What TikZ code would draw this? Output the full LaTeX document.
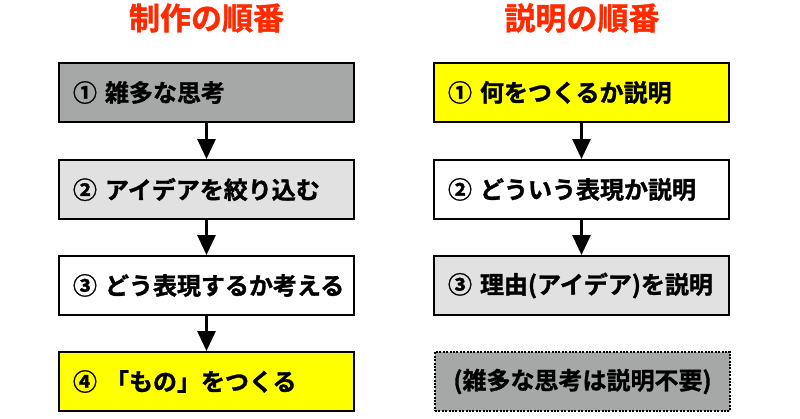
\documentclass[tikz,border=0pt]{standalone}
\usepackage{fontspec}
\newfontfamily\jp{Noto Sans CJK JP}[BoldFont={Noto Sans CJK JP Bold}, BoldFeatures={FakeBold=1.3}]
\usetikzlibrary{arrows.meta}
\definecolor{titlered}{HTML}{FF2A00}
\definecolor{darkbox}{HTML}{A6A8A8}
\definecolor{lightbox}{HTML}{E1E1E1}
\definecolor{yellowbox}{HTML}{FFFF00}
\newcommand{\numgap}{\kern8pt}
\tikzset{
  basebox/.style={draw=black, line width=2pt, rectangle, minimum height=59pt,
    inner xsep=14pt, execute at end node={\hfil\egroup},
    font=\jp\bfseries\fontsize{24}{24}\selectfont},
  stepbox/.style={basebox, execute at begin node={\hbox to 267pt\bgroup}},
  notebox/.style={basebox, dash pattern=on 2pt off 1.4pt,
    execute at begin node={\hbox to 267pt\bgroup\hfil}},
  heading/.style={text=titlered, font=\jp\bfseries\fontsize{31}{31}\selectfont},
  flow/.style={line width=3pt, -{Triangle[width=18pt,length=20pt]}}
}
\begin{document}
\begin{tikzpicture}[x=1pt,y=-1pt]
          \useasboundingbox (0,0) rectangle (800,418);

          \node[heading] (t1) at (206.5,18) {制作の順番};
          \node[heading] (t2) at (582,18) {説明の順番};

          \node[stepbox, fill=darkbox]   (l1) at (206.5,92.5)  {①\numgap 雑多な思考};
          \node[stepbox, fill=lightbox]  (l2) at (206.5,189.5) {②\numgap アイデアを絞り込む};
          \node[stepbox, fill=white]     (l3) at (206.5,285.5) {③\numgap どう表現するか考える};
          \node[stepbox, fill=yellowbox] (l4) at (206.5,381.5) {④\numgap 「もの」をつくる};

          \node[stepbox, fill=yellowbox] (r1) at (581.5,92.5)  {①\numgap 何をつくるか説明};
          \node[stepbox, fill=white]     (r2) at (581.5,189.5) {②\numgap どういう表現か説明};
          \node[stepbox, fill=lightbox]  (r3) at (581.5,285.5) {③\numgap 理由(アイデア)を説明};
          \node[notebox, fill=darkbox]   (r4) at (582.5,381.5) {(雑多な思考は説明不要)};

          \draw[flow] (l1) -- (l2);
          \draw[flow] (l2) -- (l3);
          \draw[flow] (l3) -- (l4);

          \draw[flow] (r1) -- (r2);
          \draw[flow] (r2) -- (r3);
        \end{tikzpicture}
\end{document}
